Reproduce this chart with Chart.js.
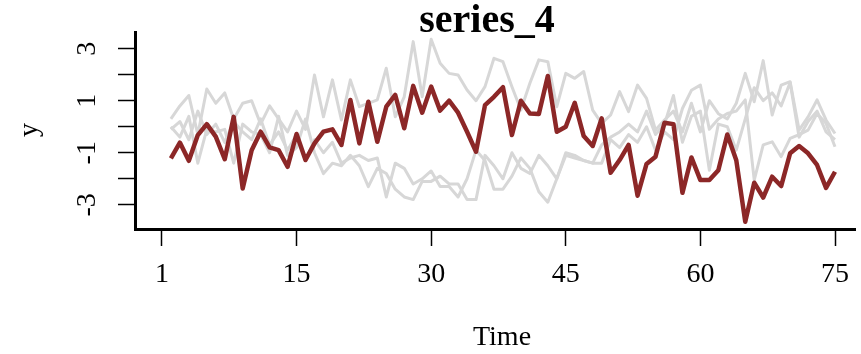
<!DOCTYPE html>
<html>
<head>
<meta charset="utf-8">
<script src="https://cdn.jsdelivr.net/npm/chart.js@4"></script>
<style>
  body { margin: 0; background: #fff; }
  #chart { display: block; }
</style>
</head>
<body>
<canvas id="chart" width="861" height="354"></canvas>
<script>
// time index
const time = [1, 2, 3, 4, 5, 6, 7, 8, 9, 10, 11, 12, 13, 14, 15, 16, 17, 18, 19, 20,
    21, 22, 23, 24, 25, 26, 27, 28, 29, 30, 31, 32, 33, 34, 35, 36, 37, 38, 39, 40,
    41, 42, 43, 44, 45, 46, 47, 48, 49, 50, 51, 52, 53, 54, 55, 56, 57, 58, 59, 60,
    61, 62, 63, 64, 65, 66, 67, 68, 69, 70, 71, 72, 73, 74, 75];

// highlighted series
const series4 = [-1.22, -0.61, -1.31, -0.32, 0.10, -0.38, -1.25, 0.38, -2.37, -0.90,
    -0.19, -0.79, -0.90, -1.54, -0.28, -1.28, -0.64, -0.19, -0.10, -0.70,
    1.03, -0.64, 0.96, -0.58, 0.77, 1.22, -0.06, 1.57, 0.54, 1.54,
    0.62, 1.00, 0.54, -0.19, -0.96, 0.83, 1.15, 1.52, -0.32, 1.00,
    0.51, 0.49, 1.95, -0.19, 0.00, 0.92, -0.36, -0.74, 0.32, -1.77,
    -1.28, -0.70, -2.65, -1.43, -1.15, 0.15, 0.10, -2.54, -1.18, -2.05,
    -2.05, -1.67, -0.30, -1.29, -3.65, -2.15, -2.72, -1.92, -2.28, -1.02,
    -0.74, -1.02, -1.47, -2.35, -1.73];

// other series, drawn in grey behind
const seriesA = [0.3, 0.8, 1.2, -0.3, 1.45, 0.9, 1.3, 0.3, 0.9, 1.0,
    0.1, 0.8, 0.3, -0.2, 0.6, -0.1, 1.99, 0.38, 1.8, 0.26,
    1.8, 0.77, 0.9, 1.03, 2.25, 0.38, 1.15, 3.27, 1.15, 3.36,
    2.44, 2.05, 1.99, 1.41, 1.0, 1.54, 2.63, 2.5, 1.54, 0.64,
    1.67, 2.57, 2.5, 0.77, 2.05, 1.86, 2.12, 0.64, 0.13, 0.45,
    1.35, 0.58, 1.6, 1.09, -0.13, 0.26, 0.6, -0.2, 0.9, -0.2,
    1.0, 0.5, 0.3, 0.9, 2.05, 0.96, 2.54, 0.45, 1.6, 1.73,
    -0.13, 0.38, 1.03, 0.26, -0.26];

const seriesB = [-0.1, 0.2, -0.5, 0.6, -0.3, 0.1, -0.6, 0.2, -0.2, -0.5,
    0.3, -0.7, -0.2, -0.9, -0.3, -1.3, -0.5, -1.0, -0.6, -1.4,
    -1.2, -1.1, -1.3, -1.2, -2.7, -1.4, -1.6, -2.2, -2.0, -1.7,
    -2.3, -2.3, -2.7, -2.0, -0.9, -1.3, -2.4, -2.4, -1.9, -1.2,
    -1.6, -2.5, -2.9, -2.0, -1.1, -1.2, -1.3, -1.4, -1.4, -0.5,
    -0.8, -0.3, -0.6, 0.0, -0.9, -0.2, -0.5, 0.7, 1.4, 1.6,
    -0.1, 0.3, 0.51, 0.6, 1.03, -2.05, -0.7, -0.58, -1.15, -0.45,
    -0.3, -0.13, 0.51, 0.13, -0.77];

const seriesC = [0.0, -0.4, 0.4, -1.4, -0.1, -0.2, -0.1, -1.4, 0.1, -0.2,
    -0.3, -1.0, 0.4, -1.1, -0.8, 0.3, -1.0, -1.8, -1.4, -1.5,
    -1.1, -1.5, -2.3, -1.6, -1.8, -2.4, -2.7, -2.8, -2.1, -2.1,
    -1.9, -2.2, -2.2, -2.8, -2.8, -1.1, -1.5, -2.0, -1.0, -1.6,
    -1.8, -1.1, -1.5, -2.0, -1.0, -1.1, -1.3, -1.4, -0.7, -0.4,
    -0.2, 0.1, -0.2, 0.6, -0.3, 0.1, 1.2, -0.6, 0.4, 0.6,
    -1.67, 0.1, 0.0, -0.9, 0.3, 1.5, 1.0, 1.3, 0.8, 1.7,
    -0.4, 0.2, 0.6, -0.2, -0.5];

const xTicks = [0, 15, 30, 45, 60, 75];
const xTickLabels = ['1', '15', '30', '45', '60', '75'];
const yTicks = [-3, -2, -1, 0, 1, 2, 3];
const yLabelled = [-3, -1, 1, 3];

const serif = '"Liberation Serif", "Times New Roman", serif';

function toPoints(values) {
    return values.map((v, i) => ({ x: time[i], y: v }));
}

function greyLine(values) {
    return {
        data: toPoints(values),
        borderColor: '#d7d7d7',
        borderWidth: 3,
        pointRadius: 0,
        borderJoinStyle: 'round',
        order: 1
    };
}

// title, axis titles and the rotated y labels
const extras = {
    id: 'extras',
    afterDraw(chart) {
        const ctx = chart.ctx;
        const yScale = chart.scales.y;
        ctx.save();
        ctx.fillStyle = '#000';
        ctx.textAlign = 'center';

        ctx.textBaseline = 'alphabetic';
        ctx.font = 'bold 40px ' + serif;
        ctx.fillText('series_4', 487, 32);

        ctx.textBaseline = 'middle';
        ctx.font = '28px ' + serif;
        ctx.fillText('Time', 502, 338);

        yLabelled.forEach(v => {
            const py = yScale.getPixelForValue(v);
            ctx.save();
            ctx.translate(88, py);
            ctx.rotate(-Math.PI / 2);
            ctx.fillText(String(v), 0, 0);
            ctx.restore();
        });

        ctx.save();
        ctx.translate(30, 130);
        ctx.rotate(-Math.PI / 2);
        ctx.fillText('y', 0, 0);
        ctx.restore();
        ctx.restore();
    }
};

new Chart(document.getElementById('chart'), {
    type: 'line',
    data: {
        datasets: [
            {
                data: toPoints(series4),
                borderColor: '#8c2727',
                borderWidth: 4.5,
                pointRadius: 0,
                borderJoinStyle: 'round',
                order: 0
            },
            greyLine(seriesA),
            greyLine(seriesB),
            greyLine(seriesC)
        ]
    },
    options: {
        responsive: false,
        animation: false,
        devicePixelRatio: 1,
        layout: { padding: { left: 0, top: 32, right: 0, bottom: 0 } },
        plugins: {
            legend: { display: false },
            tooltip: { enabled: false }
        },
        scales: {
            x: {
                type: 'linear',
                min: -3,
                max: 77.3,
                afterBuildTicks: scale => { scale.ticks = xTicks.map(v => ({ value: v })); },
                afterFit: scale => { scale.height = 125; },
                border: { display: true, color: '#000', width: 3 },
                grid: { drawOnChartArea: false, drawTicks: true, tickLength: 17, tickWidth: 1.5, tickColor: '#000' },
                ticks: {
                    color: '#000',
                    font: { family: serif, size: 28 },
                    padding: 12,
                    maxRotation: 0,
                    callback: v => xTickLabels[xTicks.indexOf(v)]
                }
            },
            y: {
                min: -3.93,
                max: 3.64,
                afterBuildTicks: scale => { scale.ticks = yTicks.map(v => ({ value: v })); },
                afterFit: scale => { scale.width = 135; },
                border: { display: true, color: '#000', width: 3 },
                grid: { drawOnChartArea: false, drawTicks: true, tickLength: 17, tickWidth: 1.5, tickColor: '#000' },
                ticks: { display: false }
            }
        }
    },
    plugins: [extras]
});
</script>
</body>
</html>
